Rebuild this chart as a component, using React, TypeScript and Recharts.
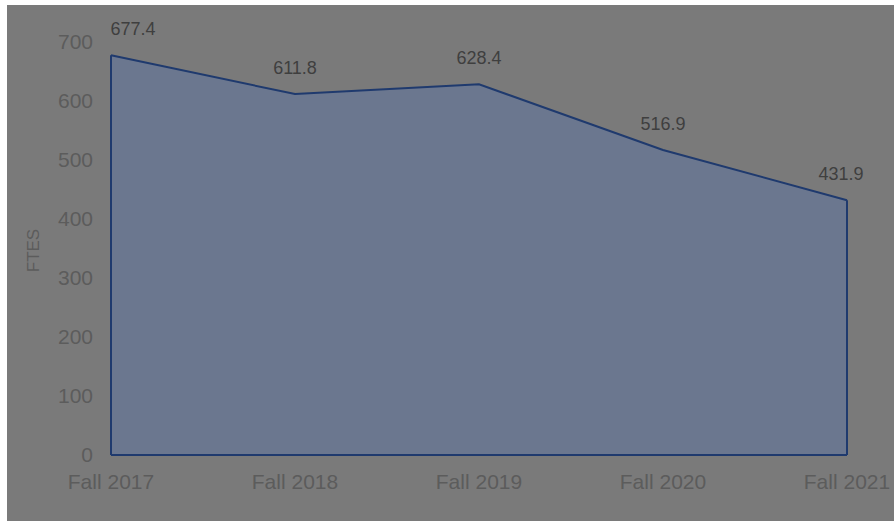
import React from "react";
import { AreaChart, Area, XAxis, YAxis, LabelList, ReferenceLine, Label } from "recharts";

const categories = ["Fall 2017", "Fall 2018", "Fall 2019", "Fall 2020", "Fall 2021"];
const ftes = [677.4, 611.8, 628.4, 516.9, 431.9];
const yTicks = [0, 100, 200, 300, 400, 500, 600, 700];

const data = categories.map((c, i) => ({ term: c, ftes: ftes[i] }));

const FONT = "'Liberation Sans', Arial, sans-serif";
const STROKE = "#1f3a6e";
const lastIdx = categories.length - 1;

const DataLabel = (props: any) => {
  const { x, y, value, index } = props;
  let dx = 0;
  if (index === 0) dx = 22;
  if (index === lastIdx) dx = -6;
  return (
    <text
      x={x + dx}
      y={y - 25}
      textAnchor="middle"
      dominantBaseline="middle"
      fill="#3f3f3f"
      fontSize={18}
      fontFamily={FONT}
    >
      {Number(value).toFixed(1)}
    </text>
  );
};

const YTitle = (props: any) => {
  const vb = props.viewBox || {};
  const cx = (vb.x || 0) + 28;
  const cy = (vb.y || 0) + (vb.height || 0) / 2 + 2;
  return (
    <text
      x={cx}
      y={cy}
      transform={`rotate(-90, ${cx}, ${cy})`}
      textAnchor="middle"
      dominantBaseline="middle"
      fill="#5c5c5c"
      fontSize={17}
      fontFamily={FONT}
    >
      FTES
    </text>
  );
};

export default function App() {
  return (
    <div
      style={{
        position: "absolute",
        left: 7,
        top: 5,
        width: 887,
        height: 516,
        background: "#7a7a7a",
      }}
    >
      <AreaChart
        width={887}
        height={516}
        data={data}
        margin={{ top: 37, right: 47, bottom: 0, left: 0 }}
      >
        <XAxis
          dataKey="term"
          axisLine={false}
          tickLine={false}
          height={66}
          tickMargin={13}
          tick={{ fill: "#5c5c5c", fontSize: 21, fontFamily: FONT }}
          interval={0}
        />
        <YAxis
          domain={[0, 700]}
          ticks={yTicks}
          axisLine={false}
          tickLine={false}
          width={104}
          tickMargin={12}
          tick={{ fill: "#5c5c5c", fontSize: 21, fontFamily: FONT }}
        >
          <Label content={YTitle} />
        </YAxis>
        <Area
          type="linear"
          dataKey="ftes"
          stroke={STROKE}
          strokeWidth={2}
          fill="#6b778f"
          fillOpacity={1}
          isAnimationActive={false}
        >
          <LabelList dataKey="ftes" content={DataLabel} />
        </Area>
        <ReferenceLine
          segment={[
            { x: categories[0], y: 0 },
            { x: categories[0], y: ftes[0] },
          ]}
          stroke={STROKE}
          strokeWidth={2}
        />
        <ReferenceLine
          segment={[
            { x: categories[lastIdx], y: 0 },
            { x: categories[lastIdx], y: ftes[lastIdx] },
          ]}
          stroke={STROKE}
          strokeWidth={2}
        />
        <ReferenceLine y={0} stroke={STROKE} strokeWidth={2} />
      </AreaChart>
    </div>
  );
}
